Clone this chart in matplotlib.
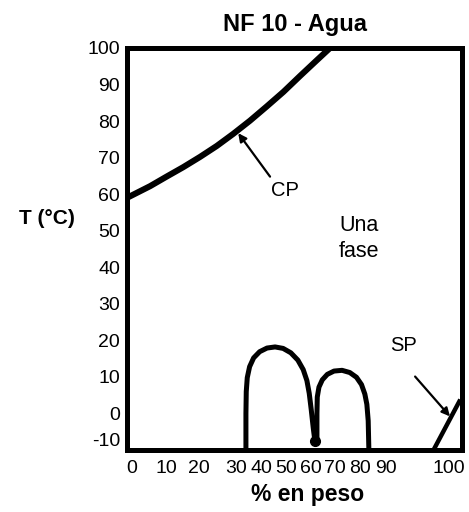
import matplotlib
matplotlib.use("Agg")
import matplotlib.pyplot as plt

plt.rcParams['font.family'] = ['Liberation Sans', 'DejaVu Sans']

# ---- data ----
cp_x = [0.0, 6.9, 11.8, 16.8, 21.8, 26.8, 31.7, 36.7, 41.7, 46.7, 51.6, 56.6, 60.6]
cp_y = [59.0, 62.2, 64.8, 67.4, 70.2, 73.2, 76.5, 80.1, 84.0, 88.0, 92.3, 96.6, 100.0]

loop_x = [35.5, 35.5, 35.6, 35.9, 36.6, 37.8, 39.6, 41.8, 44.2, 46.6, 48.9, 51.0, 52.6, 53.7, 54.4,
          55.0, 55.6, 56.1,
          56.7, 56.7, 56.8, 57.3, 58.3, 59.8, 61.8, 64.2, 66.5, 68.5, 70.0, 71.0, 71.6, 72.0, 72.2]
loop_y = [-10.0, 0.0, 6.0, 9.8, 12.8, 15.2, 16.9, 17.9, 18.2, 17.8, 16.6, 14.6, 12.0, 9.0, 5.5,
          1.0, -4.0, -7.6,
          -7.3, 0.0, 4.5, 7.2, 9.2, 10.7, 11.6, 11.8, 11.2, 9.9, 7.9, 5.3, 2.5, -2.0, -10.0]
turn_x = [56.2]
turn_y = [-7.6]

sp_x = [91.5, 99.5]
sp_y = [-10.0, 3.8]

y_ticks = [-10, 0, 10, 20, 30, 40, 50, 60, 70, 80, 90, 100]
x_tick_labels = ['0', '10', '20', '30', '40', '50', '60', '70', '80', '90', '100']
x_tick_pos = [1.5, 11.9, 21.5, 32.5, 40.0, 47.5, 54.9, 62.1, 69.6, 77.3, 96.1]

fig = plt.figure(figsize=(4.69, 5.12), dpi=100)
ax = fig.add_axes([127/469, 1-450/512, (462-127)/469, (450-48)/512])

ax.plot(cp_x, cp_y, color='black', lw=4.4, solid_capstyle='butt', solid_joinstyle='round')
ax.plot(loop_x, loop_y, color='black', lw=3.6, solid_joinstyle='round', solid_capstyle='butt')
ax.plot(turn_x, turn_y, 'o', color='black', ms=7)
ax.plot(sp_x, sp_y, color='black', lw=3.2, solid_capstyle='butt')

ax.set_xlim(0, 100)
ax.set_ylim(-10, 100)

for s in ax.spines.values():
    s.set_linewidth(3.6)
    s.set_capstyle('projecting')

ax.set_yticks(y_ticks)
ax.set_yticklabels([str(v) for v in y_ticks])
ax.set_xticks(x_tick_pos)
ax.set_xticklabels(x_tick_labels)
ax.tick_params(axis='both', length=0, labelsize=14)
ax.tick_params(axis='y', pad=5)
ax.tick_params(axis='x', pad=7)
ax.get_yticklabels()[0].set_va('bottom')

ax.set_title('NF 10 - Agua', fontsize=17, fontweight='bold', pad=12)
fig.text(47/469, 1-219/512, 'T (°C)', fontsize=15, fontweight='bold', ha='center', va='center')
fig.text(308/469, 1-495/512, '% en peso', fontsize=16.5, fontweight='bold', ha='center', va='center')

arrow = dict(arrowstyle='-|>', lw=1.6, color='black', mutation_scale=12, shrinkA=0, shrinkB=0)
ax.annotate('', xy=(33.2, 76.7), xytext=(42.7, 64.8), arrowprops=arrow)
ax.text(47.0, 61.0, 'CP', fontsize=14.5, ha='center', va='center')
ax.annotate('', xy=(96.4, -0.8), xytext=(86.0, 10.1), arrowprops=arrow)
ax.text(82.5, 18.7, 'SP', fontsize=14.5, ha='center', va='center')
ax.text(69.4, 47.8, 'Una\nfase', fontsize=15.5, ha='center', va='center', linespacing=1.3)

fig.savefig('out.png', dpi=100)
